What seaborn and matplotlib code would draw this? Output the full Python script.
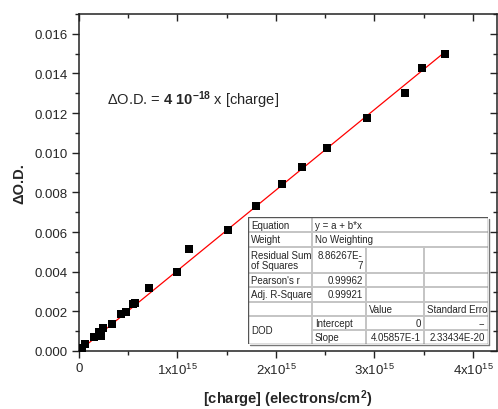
import numpy as np
import pandas as pd
import matplotlib
matplotlib.use("Agg")
import matplotlib.pyplot as plt
from matplotlib.ticker import MultipleLocator, FixedLocator, FixedFormatter
import seaborn as sns

# Measured absorbance change vs. injected charge
charge = [0.034e15, 0.061e15, 0.155e15, 0.206e15, 0.223e15, 0.247e15, 0.338e15,
          0.423e15, 0.477e15, 0.545e15, 0.569e15, 0.708e15, 0.995e15, 1.114e15,
          1.513e15, 1.80e15, 2.06e15, 2.264e15, 2.515e15, 2.92e15, 3.31e15,
          3.48e15, 3.716e15]
delta_od = [0.00017, 0.00037, 0.00073, 0.00096, 0.00076, 0.00118, 0.00138,
            0.00189, 0.00197, 0.00236, 0.00244, 0.00317, 0.00401, 0.00514,
            0.00610, 0.00729, 0.00840, 0.00928, 0.01025, 0.01175, 0.01300,
            0.01426, 0.01500]

# Linear fit through the origin
fit_slope = 4.05857e-18
fit_intercept = 0.0

xtick_values = [0, 1e15, 2e15, 3e15, 4e15]
xtick_labels = ["0", r"1x10$^{15}$", r"2x10$^{15}$", r"3x10$^{15}$", r"4x10$^{15}$"]

# Fit report rows
table_rows = [
    ("Equation", "y = a + b*x"),
    ("Weight", "No Weighting"),
    ("Residual Sum\nof Squares", "8.86267E-\n7"),
    ("Pearson's r", "0.99962"),
    ("Adj. R-Square", "0.99921"),
]
param_header = ("Value", "Standard Erro")
param_group = "DOD"
param_rows = [("Intercept", "0", "--"), ("Slope", "4.05857E-1", "2.33434E-20")]

sns.set_style("ticks")
plt.rcParams["font.family"] = ["Liberation Sans", "DejaVu Sans"]
plt.rcParams["mathtext.fontset"] = "custom"
plt.rcParams["mathtext.rm"] = "Liberation Sans"
plt.rcParams["mathtext.bf"] = "Liberation Sans:bold"
plt.rcParams["mathtext.it"] = "Liberation Sans:italic"

W, H = 498, 410
fig = plt.figure(figsize=(W / 100, H / 100), dpi=100)
ax = fig.add_axes([79 / W, 1 - 352 / H, (497 - 79) / W, (352 - 15) / H])

df = pd.DataFrame({"charge": charge, "dod": delta_od})
xfit = np.array([min(charge), max(charge)])
fit_df = pd.DataFrame({"charge": xfit, "dod": fit_intercept + fit_slope * xfit})

sns.lineplot(data=fit_df, x="charge", y="dod", ax=ax, color="#ff0000", lw=0.9, zorder=3)
sns.scatterplot(data=df, x="charge", y="dod", ax=ax, marker="s", s=30,
                color="black", linewidth=0, zorder=4)

ax.set_xlim(0, 4.245e15)
ax.set_ylim(0, 0.017)
ax.xaxis.set_major_locator(FixedLocator(xtick_values))
ax.xaxis.set_major_formatter(FixedFormatter(xtick_labels))
ax.xaxis.set_minor_locator(MultipleLocator(0.5e15))
ax.yaxis.set_major_locator(MultipleLocator(0.002))
ax.yaxis.set_minor_locator(MultipleLocator(0.001))
ax.yaxis.set_major_formatter(matplotlib.ticker.FormatStrFormatter("%.3f"))

for s in ax.spines.values():
    s.set_visible(True)
    s.set_linewidth(1.1)
    s.set_color("#222222")

ax.tick_params(axis="both", which="major", direction="out", length=5, width=1,
               labelsize=9.5, color="#222222", pad=3)
ax.tick_params(axis="both", which="minor", direction="out", length=3, width=1,
               color="#222222")
ax.tick_params(top=True, right=True, which="both")
ax.tick_params(axis="x", which="major", labeltop=False)
# Mirror ticks on top and right point inward
for t in ax.xaxis.get_major_ticks() + ax.xaxis.get_minor_ticks():
    t.tick2line.set_marker(matplotlib.lines.TICKDOWN)
for t in ax.yaxis.get_major_ticks() + ax.yaxis.get_minor_ticks():
    t.tick2line.set_marker(matplotlib.lines.TICKLEFT)

ax.set_xlabel("[charge] (electrons/cm$^\\mathbf{2}$)", fontsize=10.5,
              fontweight="bold", labelpad=7)
ax.set_ylabel("ΔO.D.", fontsize=10.5, fontweight="bold", labelpad=6)

ax.text(0.284e15, 0.0127, "ΔO.D. = $\\mathbf{4\\ 10^{-18}}$ x [charge]",
        fontsize=10.5, va="center", ha="left")

# Fit report box, drawn in pixel coordinates
tx0, tx1, ty0, ty1 = 248.3, 488.3, 218.3, 345.0
tab = fig.add_axes([tx0 / W, 1 - ty1 / H, (tx1 - tx0) / W, (ty1 - ty0) / H])
tab.set_xlim(tx0, tx1)
tab.set_ylim(ty1, ty0)
tab.axis("off")
tab.set_zorder(5)
tab.add_patch(plt.Rectangle((tx0, ty0), tx1 - tx0, ty1 - ty0, facecolor="white",
                            edgecolor="none", zorder=0))

cols = [tx0, 312.3, 366.3, 424.3, tx1]
rows = [ty0, 233.3, 247.7, 274.0, 288.3, 302.7, 316.7, 331.0, ty1]
grid_c = "#c4c4c4"
grid_lw = 1.4
for y in rows[1:-1]:
    x_start = cols[1] if y == rows[7] else tx0
    tab.plot([x_start, tx1], [y, y], color=grid_c, lw=grid_lw, zorder=1)
tab.plot([cols[1], cols[1]], [ty0, ty1], color=grid_c, lw=grid_lw, zorder=1)
for x in cols[2:4]:
    tab.plot([x, x], [rows[2], ty1], color=grid_c, lw=grid_lw, zorder=1)
tab.add_patch(plt.Rectangle((tx0, ty0), tx1 - tx0, ty1 - ty0, facecolor="none",
                            edgecolor="#555555", lw=1.0, zorder=2))
tab.plot([tx1 + 0.8, tx1 + 0.8], [ty0 + 1.5, ty1 + 0.8], color="#777777", lw=1.0,
         zorder=2, clip_on=False)
tab.plot([tx0 + 1.5, tx1 + 0.8], [ty1 + 0.8, ty1 + 0.8], color="#777777", lw=1.0,
         zorder=2, clip_on=False)

fs = 7
pad = 2.5
for i, (label, value) in enumerate(table_rows):
    yc = (rows[i] + rows[i + 1]) / 2
    tab.text(tx0 + pad, yc, label, fontsize=fs, va="center", ha="left",
             linespacing=1.05, zorder=3)
    if i < 2:
        tab.text(cols[1] + pad, yc, value, fontsize=fs, va="center", ha="left", zorder=3)
    else:
        tab.text(cols[2] - pad - 1, yc, value, fontsize=fs, va="center", ha="right",
                 multialignment="right", linespacing=1.05, zorder=3)

yc = (rows[5] + rows[6]) / 2
tab.text(cols[2] + pad, yc, param_header[0], fontsize=fs, va="center", ha="left", zorder=3)
tab.text(cols[3] + pad, yc, param_header[1], fontsize=fs, va="center", ha="left", zorder=3)
tab.text(tx0 + pad, (rows[6] + rows[8]) / 2, param_group, fontsize=fs, va="center",
         ha="left", zorder=3)
for j, (name, val, err) in enumerate(param_rows):
    yc = (rows[6 + j] + rows[7 + j]) / 2
    tab.text(cols[1] + pad, yc, name, fontsize=fs, va="center", ha="left", zorder=3)
    tab.text(cols[3] - pad - 1, yc, val, fontsize=fs, va="center", ha="right", zorder=3)
    tab.text(cols[4] - pad - 1, yc, err, fontsize=fs, va="center", ha="right", zorder=3)

fig.savefig("out.png", dpi=100)
